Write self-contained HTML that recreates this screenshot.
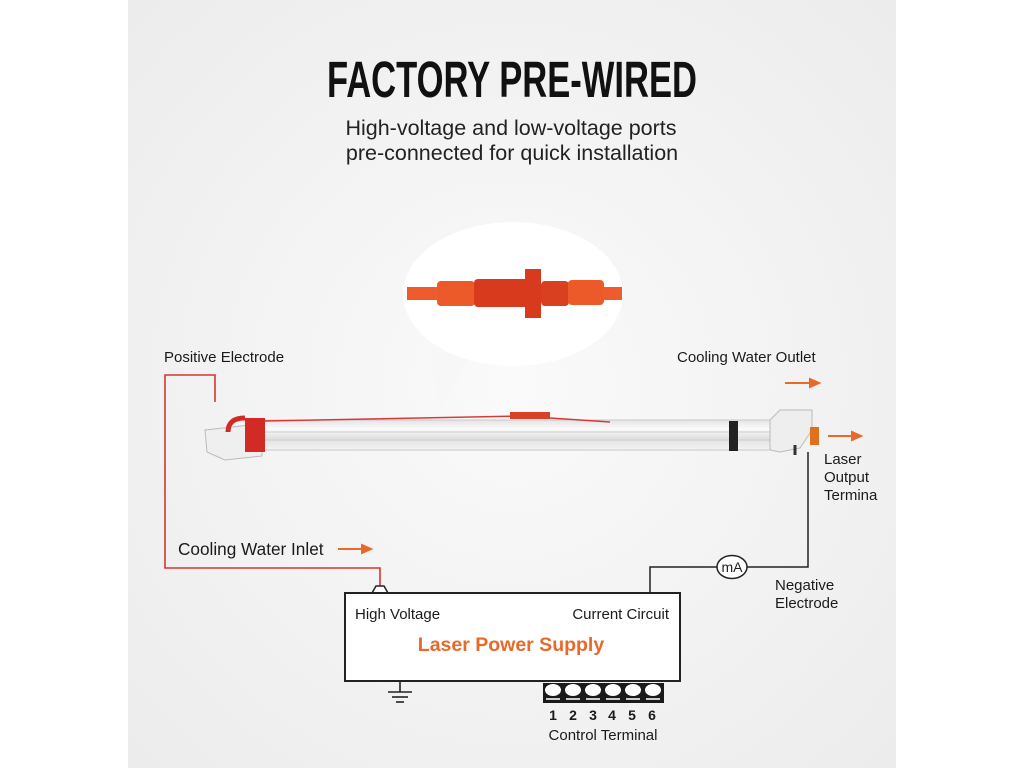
<!DOCTYPE html>
<html><head><meta charset="utf-8"><style>
html,body{margin:0;padding:0;background:#fff;}
svg{display:block;font-family:"Liberation Sans",Arial,sans-serif;}
</style></head><body>
<svg width="1024" height="768" viewBox="0 0 1024 768" xmlns="http://www.w3.org/2000/svg">
<defs>
<radialGradient id="bg" cx="0.5" cy="0.5" r="0.7">
<stop offset="0" stop-color="#fafafa"/><stop offset="1" stop-color="#ececec"/>
</radialGradient>
<linearGradient id="tube" x1="0" y1="0" x2="0" y2="1">
<stop offset="0" stop-color="#e4e4e4"/><stop offset="0.3" stop-color="#fbfbfb"/><stop offset="0.6" stop-color="#e0e0e0"/><stop offset="1" stop-color="#f4f4f4"/>
</linearGradient>
</defs>
<rect x="0" y="0" width="1024" height="768" fill="#fff"/>
<rect x="128" y="0" width="768" height="768" fill="url(#bg)"/>

<text x="327" y="97" font-size="51" font-weight="bold" textLength="370" lengthAdjust="spacingAndGlyphs" fill="#111" font-family="Liberation Sans Narrow, Liberation Sans, sans-serif">FACTORY PRE-WIRED</text>
<text x="511" y="135" font-size="21.5" text-anchor="middle" fill="#222">High-voltage and low-voltage ports</text>
<text x="512" y="160" font-size="21.5" text-anchor="middle" fill="#222">pre-connected for quick installation</text>

<!-- bubble -->
<path d="M430 350 L440 410 L470 355 Z" fill="#f7f7f7"/>
<ellipse cx="513" cy="294" rx="110" ry="72" fill="#fff"/>
<g>
<rect x="407" y="287" width="32" height="13" fill="#ee5b2c"/>
<rect x="437" y="281" width="38" height="25" rx="4" fill="#ec5a2a"/>
<rect x="474" y="279" width="55" height="28" rx="4" fill="#d83a1e"/>
<rect x="525" y="269" width="16" height="49" fill="#d83a1e"/>
<rect x="541" y="281" width="28" height="25" rx="4" fill="#d8401f"/>
<rect x="568" y="280" width="36" height="25" rx="4" fill="#ec5a2a"/>
<rect x="603" y="287" width="19" height="13" fill="#ee5b2c"/>
</g>

<!-- red wires -->
<polyline points="215,402 215,375 165,375 165,568 380,568 380,586" fill="none" stroke="#d8362e" stroke-width="1.6"/>
<path d="M372 593 L376 586 L384 586 L388 593" fill="#fff" stroke="#222" stroke-width="1.5"/>

<!-- tube -->
<path d="M205 430 L250 425 L262 430 L262 456 L225 460 L207 452 Z" fill="#efefef" stroke="#bbb" stroke-width="1"/>
<rect x="255" y="420" width="535" height="30" fill="url(#tube)" stroke="#c8c8c8" stroke-width="1"/>
<line x1="260" y1="432" x2="790" y2="432" stroke="#ccc"/>
<line x1="260" y1="440" x2="790" y2="440" stroke="#ccc"/>
<path d="M770 420 L780 410 L812 410 L812 430 L800 448 L780 452 L770 450 Z" fill="#eee" stroke="#bbb"/>
<rect x="245" y="418" width="20" height="34" fill="#d22a25"/>
<path d="M228 432 Q228 418 245 418" fill="none" stroke="#d22a25" stroke-width="5"/>
<path d="M265 421 L520 416 L610 422" fill="none" stroke="#d83a3a" stroke-width="1.5"/>
<rect x="510" y="412" width="40" height="7" fill="#d8402a"/>
<rect x="729" y="421" width="9" height="30" fill="#222"/>
<rect x="810" y="427" width="9" height="18" fill="#e0701c"/>
<line x1="795" y1="445" x2="795" y2="455" stroke="#333" stroke-width="3"/>

<!-- black wire -->
<polyline points="650,593 650,567 717,567" fill="none" stroke="#222" stroke-width="1.5"/>
<polyline points="747,567 808,567 808,452" fill="none" stroke="#222" stroke-width="1.5"/>
<ellipse cx="732" cy="567" rx="15" ry="11.5" fill="#fff" stroke="#222" stroke-width="1.5"/>
<text x="732" y="572" font-size="14" text-anchor="middle" fill="#222">mA</text>

<!-- arrows -->
<g stroke="#e8692a" stroke-width="2" fill="#e8692a">
<line x1="785" y1="383" x2="812" y2="383"/><path d="M810 379 L819 383 L810 387Z"/>
<line x1="828" y1="436" x2="854" y2="436"/><path d="M852 432 L861 436 L852 440Z"/>
<line x1="338" y1="549" x2="364" y2="549"/><path d="M362 545 L371 549 L362 553Z"/>
</g>

<!-- labels -->
<g fill="#1a1a1a" font-size="15">
<text x="164" y="362">Positive Electrode</text>
<text x="677" y="362">Cooling Water Outlet</text>
<text x="824" y="464">Laser</text>
<text x="824" y="482">Output</text>
<text x="824" y="500">Termina</text>
<text x="775" y="590">Negative</text>
<text x="775" y="608">Electrode</text>
</g>
<text x="178" y="555" font-size="17.2" fill="#1a1a1a">Cooling Water Inlet</text>

<!-- power supply -->
<rect x="345" y="593" width="335" height="88" fill="#fff" stroke="#222" stroke-width="2"/>
<text x="355" y="619" font-size="15" fill="#1a1a1a">High Voltage</text>
<text x="669" y="619" font-size="15" fill="#1a1a1a" text-anchor="end">Current Circuit</text>
<text x="511" y="651" font-size="19.5" font-weight="bold" fill="#e8692a" text-anchor="middle">Laser Power Supply</text>

<!-- ground -->
<g stroke="#222" stroke-width="1.6">
<line x1="400" y1="681" x2="400" y2="692"/>
<line x1="388" y1="692" x2="412" y2="692"/>
<line x1="392" y1="697" x2="408" y2="697"/>
<line x1="396" y1="702" x2="404" y2="702"/>
</g>

<!-- control terminal -->
<rect x="543" y="683" width="121" height="20" fill="#1a1a1a"/>
<g fill="#fff">
<ellipse cx="553" cy="690" rx="8" ry="6"/><ellipse cx="573" cy="690" rx="8" ry="6"/><ellipse cx="593" cy="690" rx="8" ry="6"/>
<ellipse cx="613" cy="690" rx="8" ry="6"/><ellipse cx="633" cy="690" rx="8" ry="6"/><ellipse cx="653" cy="690" rx="8" ry="6"/>
</g>
<g fill="#ccc">
<rect x="546" y="698" width="14" height="2"/><rect x="566" y="698" width="14" height="2"/><rect x="586" y="698" width="14" height="2"/>
<rect x="606" y="698" width="14" height="2"/><rect x="626" y="698" width="14" height="2"/><rect x="646" y="698" width="14" height="2"/>
</g>
<g font-size="14" font-weight="bold" fill="#1a1a1a" text-anchor="middle">
<text x="553" y="720">1</text><text x="573" y="720">2</text><text x="593" y="720">3</text>
<text x="612" y="720">4</text><text x="632" y="720">5</text><text x="652" y="720">6</text>
</g>
<text x="603" y="740" font-size="15" fill="#1a1a1a" text-anchor="middle">Control Terminal</text>
</svg>
</body></html>
